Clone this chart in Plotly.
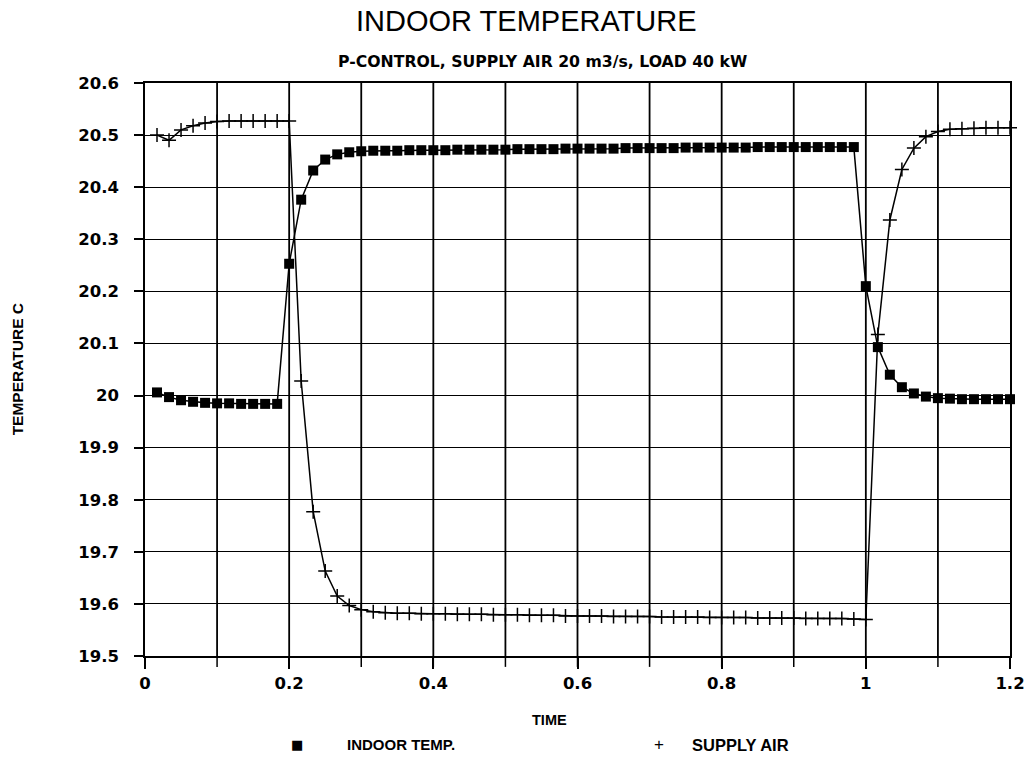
import plotly.graph_objects as go

# Time in minutes (plotted in hours)
TIME_MIN = [1, 2, 3, 4, 5, 6, 7, 8, 9, 10, 11, 12, 13, 14, 15, 16, 17, 18, 19, 20,
            21, 22, 23, 24, 25, 26, 27, 28, 29, 30, 31, 32, 33, 34, 35, 36, 37, 38, 39, 40,
            41, 42, 43, 44, 45, 46, 47, 48, 49, 50, 51, 52, 53, 54, 55, 56, 57, 58, 59, 60,
            61, 62, 63, 64, 65, 66, 67, 68, 69, 70, 71, 72]

INDOOR_TEMP = [20.006, 19.997, 19.991, 19.988, 19.986, 19.985, 19.985, 19.984, 19.984, 19.984,
               19.984, 20.253, 20.376, 20.432, 20.453, 20.463, 20.467, 20.469, 20.470, 20.470,
               20.470, 20.471, 20.471, 20.471, 20.471, 20.472, 20.472, 20.472, 20.472, 20.472,
               20.473, 20.473, 20.473, 20.473, 20.474, 20.474, 20.474, 20.474, 20.474, 20.475,
               20.475, 20.475, 20.475, 20.475, 20.476, 20.476, 20.476, 20.476, 20.476, 20.476,
               20.477, 20.477, 20.477, 20.477, 20.477, 20.477, 20.477, 20.477, 20.477, 20.210,
               20.093, 20.040, 20.016, 20.004, 19.998, 19.995, 19.994, 19.993, 19.993, 19.993,
               19.993, 19.993]

SUPPLY_AIR = [20.500, 20.490, 20.510, 20.518, 20.523, 20.526, 20.527, 20.527, 20.527, 20.527,
              20.527, 20.527, 20.028, 19.777, 19.663, 19.615, 19.597, 19.589, 19.585, 19.583,
              19.582, 19.582, 19.581, 19.581, 19.581, 19.580, 19.580, 19.580, 19.579, 19.579,
              19.579, 19.578, 19.578, 19.578, 19.577, 19.577, 19.577, 19.577, 19.576, 19.576,
              19.576, 19.576, 19.575, 19.575, 19.575, 19.575, 19.574, 19.574, 19.574, 19.574,
              19.573, 19.573, 19.573, 19.573, 19.572, 19.572, 19.572, 19.572, 19.571, 19.570,
              20.117, 20.337, 20.434, 20.475, 20.497, 20.507, 20.511, 20.512, 20.513, 20.514,
              20.514, 20.514]

X_TICKS = [0, 0.2, 0.4, 0.6, 0.8, 1.0, 1.2]
X_TICK_TEXT = ["0", "0.2", "0.4", "0.6", "0.8", "1", "1.2"]
Y_TICKS = [19.5, 19.6, 19.7, 19.8, 19.9, 20.0, 20.1, 20.2, 20.3, 20.4, 20.5, 20.6]
Y_TICK_TEXT = ["19.5", "19.6", "19.7", "19.8", "19.9", "20", "20.1", "20.2", "20.3", "20.4", "20.5", "20.6"]
V_GRID = [0.1, 0.2, 0.3, 0.4, 0.5, 0.6, 0.7, 0.8, 0.9, 1.0, 1.1]

time_h = [m / 60 for m in TIME_MIN]

FONT = "Liberation Sans, Arial, sans-serif"
TICKFONT = "DejaVu Sans, sans-serif"

fig = go.Figure()
fig.add_trace(go.Scatter(
    x=time_h, y=INDOOR_TEMP, mode="lines+markers", name="INDOOR TEMP.",
    line=dict(color="black", width=1.5),
    marker=dict(symbol="square", size=10, color="black"),
    cliponaxis=False,
))
fig.add_trace(go.Scatter(
    x=time_h, y=SUPPLY_AIR, mode="lines+markers", name="SUPPLY AIR",
    line=dict(color="black", width=1.5),
    marker=dict(symbol="cross-thin", size=10, color="black", line=dict(color="black", width=1.5)),
    cliponaxis=False,
))

fig.update_layout(
    width=1032, height=760,
    margin=dict(l=145, r=22, t=83, b=104),
    paper_bgcolor="white", plot_bgcolor="white",
    showlegend=False,
    font=dict(family=FONT, color="black"),
    title=dict(text="INDOOR TEMPERATURE", x=0.51, xanchor="center",
               y=0.973, yanchor="middle", yref="container",
               font=dict(size=29, family=FONT, color="black")),
)

fig.update_xaxes(
    range=[0, 1.2], automargin=False,
    tickmode="array", tickvals=X_TICKS, ticktext=X_TICK_TEXT,
    showgrid=False, zeroline=False,
    showline=True, linecolor="black", linewidth=1.5, mirror=True,
    ticks="outside", ticklen=11, tickwidth=1.5, tickcolor="black",
    tickfont=dict(size=16.5, family=TICKFONT, weight="bold"),
    ticklabelstandoff=0,
)
fig.update_yaxes(
    range=[19.5, 20.6], automargin=False,
    tickmode="array", tickvals=Y_TICKS, ticktext=Y_TICK_TEXT,
    showgrid=True, gridcolor="black", gridwidth=1.2,
    zeroline=False,
    showline=True, linecolor="black", linewidth=1.5, mirror=True,
    ticks="outside", ticklen=9, tickwidth=1.5, tickcolor="black",
    tickfont=dict(size=16.5, family=TICKFONT, weight="bold"),
    ticklabelstandoff=12,
)

for v in V_GRID:
    fig.add_shape(type="line", xref="x", yref="paper", x0=v, x1=v, y0=0, y1=1,
                  line=dict(color="black", width=1.8), layer="below")
    fig.add_shape(type="line", xref="x", yref="paper", x0=v, x1=v, y0=0, y1=-0.019,
                  line=dict(color="black", width=1.5))

fig.add_annotation(text="P-CONTROL, SUPPLY AIR 20 m3/s, LOAD 40 kW", xref="paper", yref="paper",
                   x=0.46, y=1.037, xanchor="center", yanchor="middle", showarrow=False,
                   font=dict(size=15.7, family=TICKFONT, weight="bold"))
fig.add_annotation(text="TEMPERATURE C", xref="paper", yref="paper", textangle=-90,
                   x=-0.147, y=0.5, xanchor="center", yanchor="middle", showarrow=False,
                   font=dict(size=15.5, family=FONT, weight="bold"))
fig.add_annotation(text="TIME", xref="paper", yref="paper",
                   x=0.468, y=-0.112, xanchor="center", yanchor="middle", showarrow=False,
                   font=dict(size=14.5, family=FONT, weight="bold"))
fig.add_annotation(text="■", xref="paper", yref="paper",
                   x=0.1757, y=-0.155, xanchor="center", yanchor="middle", showarrow=False,
                   font=dict(size=13, family="DejaVu Sans"))
fig.add_annotation(text="INDOOR TEMP.", xref="paper", yref="paper",
                   x=0.231, y=-0.155, xanchor="left", yanchor="middle", showarrow=False,
                   font=dict(size=15, family=FONT, weight="bold"))
fig.add_annotation(text="+", xref="paper", yref="paper",
                   x=0.594, y=-0.155, xanchor="center", yanchor="middle", showarrow=False,
                   font=dict(size=17, family=FONT))
fig.add_annotation(text="SUPPLY AIR", xref="paper", yref="paper",
                   x=0.630, y=-0.155, xanchor="left", yanchor="middle", showarrow=False,
                   font=dict(size=16.5, family=FONT, weight="bold"))

fig.write_html("out.html", config={"displayModeBar": False},
               post_script="document.body.style.margin='0';")
